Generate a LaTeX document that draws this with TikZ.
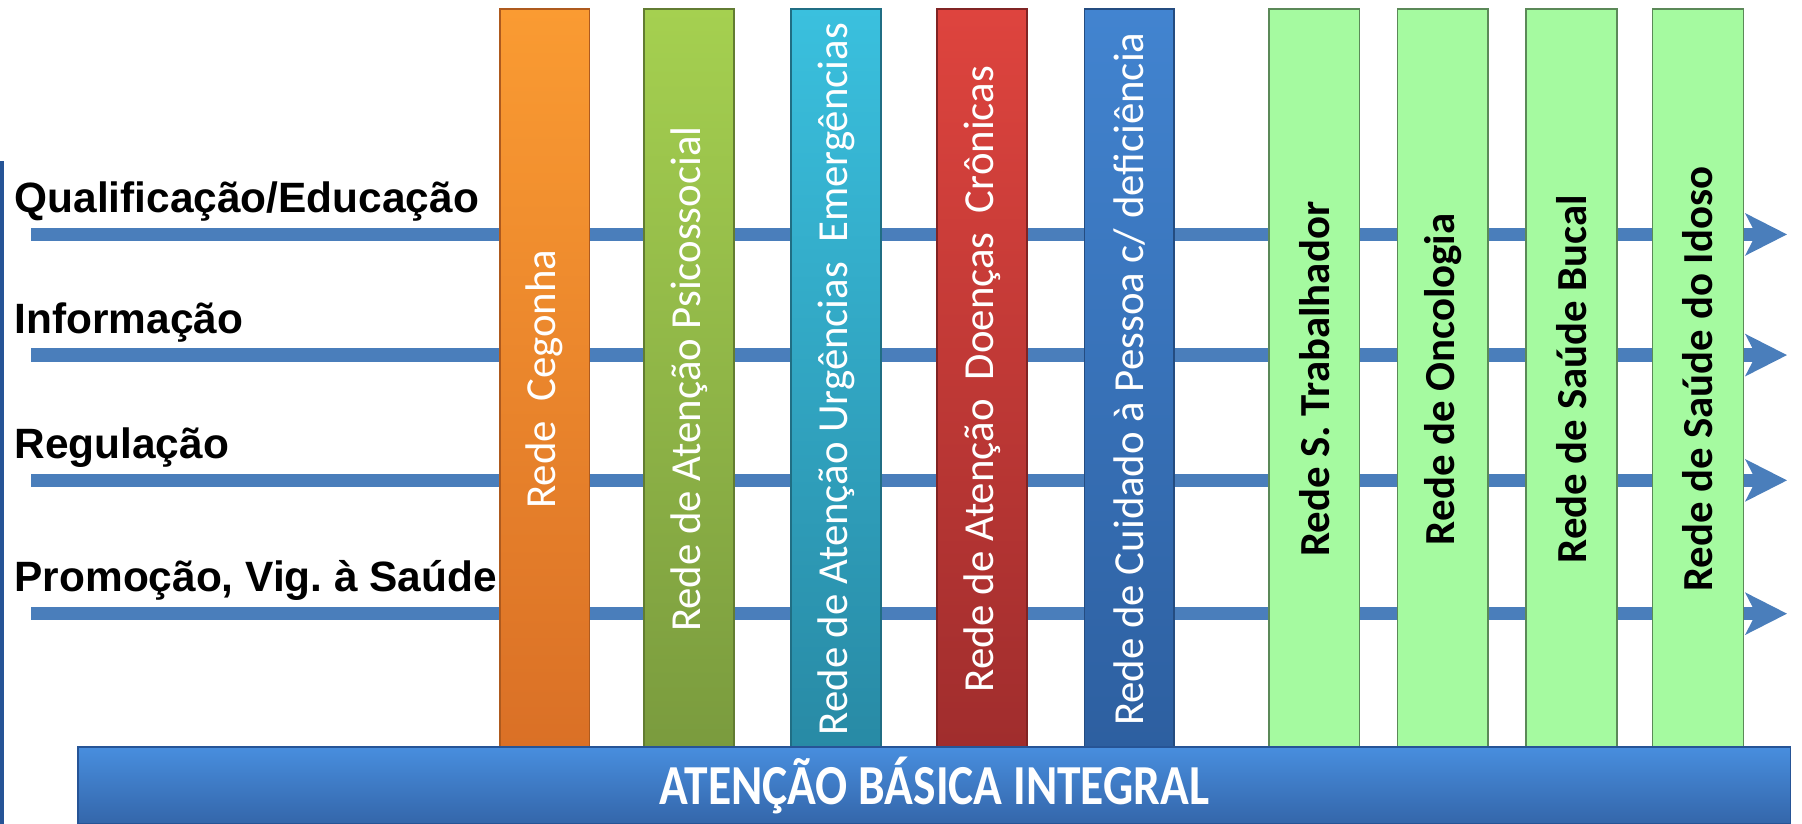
\documentclass[tikz,border=0pt]{standalone}
\usepackage{fontspec}
\setmainfont{Carlito}
\newfontfamily\arialfont{Liberation Sans}
\newfontfamily\barfont{Carlito}[FakeStretch=0.84]
\usetikzlibrary{arrows.meta}

\definecolor{axisblue}{RGB}{74,126,187}
\definecolor{edgeblue}{RGB}{38,84,150}
\definecolor{orTop}{RGB}{250,155,50}
\definecolor{orBot}{RGB}{218,112,38}
\definecolor{grTop}{RGB}{165,208,80}
\definecolor{grBot}{RGB}{122,155,62}
\definecolor{cyTop}{RGB}{58,192,222}
\definecolor{cyBot}{RGB}{40,138,165}
\definecolor{rdTop}{RGB}{222,68,62}
\definecolor{rdBot}{RGB}{160,45,45}
\definecolor{blTop}{RGB}{66,132,208}
\definecolor{blBot}{RGB}{45,95,160}
\definecolor{mint}{RGB}{165,250,160}
\definecolor{barTop}{RGB}{72,142,222}
\definecolor{barBot}{RGB}{52,102,170}

\begin{document}
\frenchspacing
\begin{tikzpicture}[
    axis/.style={draw=axisblue, line width=1.15mm, -{Stealth[length=3.6mm, width=3.6mm, inset=0.9mm]}},
    rowlabel/.style={anchor=base west, inner sep=0pt, font=\arialfont\bfseries\fontsize{10.5}{12}\selectfont},
    col/.style 2 args={rotate=90, minimum width=6.44cm, minimum height=0.78cm, inner sep=0pt,
        draw=#2!80!black, top color=#1, bottom color=#2, text=white, font=\fontsize{10.6}{12}\selectfont},
    mintcol/.style={rotate=90, minimum width=6.44cm, minimum height=0.79cm, inner sep=0pt,
        draw=mint!55!black, fill=mint, font=\bfseries\fontsize{10.6}{12}\selectfont},
    basebar/.style={minimum width=14.90cm, minimum height=0.67cm, inner sep=0pt, draw=edgeblue,
        top color=barTop, bottom color=barBot, text=white, font=\barfont\bfseries\fontsize{14}{16}\selectfont}
]
    \useasboundingbox (0,0) rectangle (15.68,7.17);

    % left edge
    \draw[edgeblue, line width=0.35mm] (0.02,0) -- (0.02,5.77);

    % 4 axes
    \foreach \i/\ly/\txt in {1/5.13/{Qualificação/Educação}, 2/4.08/{Informação}, 3/2.99/{Regulação}, 4/1.83/{Promoção, Vig. à Saúde}} {
        \coordinate (S\i) at (0.27, \ly);
        \coordinate (E\i) at (15.55, \ly);
        \node[rowlabel] (R\i) at (0.12, \ly+0.19) {\txt};
        \draw[axis] (S\i) -- (E\i);
    }

    % coloured networks
    \foreach \i/\x/\colA/\colB/\txt in {
        1/4.74/orTop/orBot/{Rede\ \ Cegonha},
        2/5.995/grTop/grBot/{Rede de Atenção Psicossocial},
        3/7.275/cyTop/cyBot/{Rede de Atenção Urgências\ \ Emergências},
        4/8.545/rdTop/rdBot/{Rede de Atenção\ \ Doenças\ \ Crônicas},
        5/9.825/blTop/blBot/{Rede de Cuidado à Pessoa c/ deficiência}} {
        \node[col={\colA}{\colB}] (C\i) at (\x, 3.87) {\txt};
    }

    % green networks
    \foreach \i/\x/\txt in {
        1/11.435/{Rede S. Trabalhador},
        2/12.555/{Rede de Oncologia},
        3/13.675/{Rede de Saúde Bucal},
        4/14.775/{Rede de Saúde do Idoso}} {
        \node[mintcol] (G\i) at (\x, 3.87) {\txt};
    }

    % base
    \node[basebar] (ABI) at (8.13, 0.335) {ATENÇÃO BÁSICA INTEGRAL};
\end{tikzpicture}
\end{document}
